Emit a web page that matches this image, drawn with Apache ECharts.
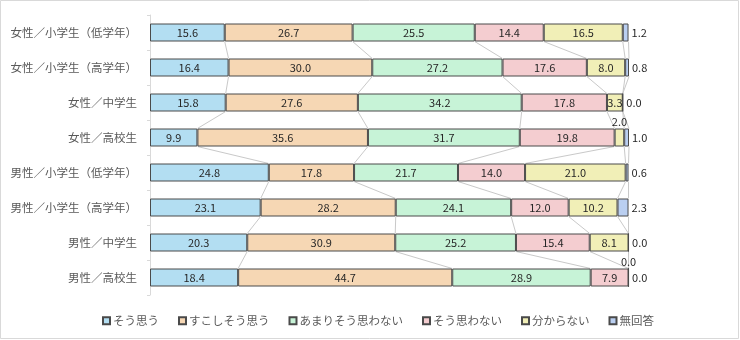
<!DOCTYPE html>
<html lang="ja">
<head>
<meta charset="utf-8">
<title>意識調査 回答割合</title>
<script src="https://cdn.jsdelivr.net/npm/echarts@6/dist/echarts.min.js"></script>
<style>
  html, body { margin: 0; padding: 0; background: #fff; }
  #chart { width: 740px; height: 340px; }
</style>
</head>
<body>
<div id="chart"></div>
<script>
// Respondent groups, top to bottom
const categories = [
  '女性／小学生（低学年）',
  '女性／小学生（高学年）',
  '女性／中学生',
  '女性／高校生',
  '男性／小学生（低学年）',
  '男性／小学生（高学年）',
  '男性／中学生',
  '男性／高校生'
];

// Answer options (legend order)
const answerNames = ['そう思う', 'すこしそう思う', 'あまりそう思わない', 'そう思わない', '分からない', '無回答'];

// Shares in percent, one value per group
const agree         = [15.6, 16.4, 15.8,  9.9, 24.8, 23.1, 20.3, 18.4];
const somewhatAgree = [26.7, 30.0, 27.6, 35.6, 17.8, 28.2, 30.9, 44.7];
const notReally     = [25.5, 27.2, 34.2, 31.7, 21.7, 24.1, 25.2, 28.9];
const disagree      = [14.4, 17.6, 17.8, 19.8, 14.0, 12.0, 15.4,  7.9];
const unsure        = [16.5,  8.0,  3.3,  2.0, 21.0, 10.2,  8.1,  0.0];
const noAnswer      = [ 1.2,  0.8,  0.0,  1.0,  0.6,  2.3,  0.0,  0.0];

const answerValues = [agree, somewhatAgree, notReally, disagree, unsure, noAnswer];

// Groups whose "分からない" label sits above the bar (segment too thin)
const unsureLabelAbove = [3, 7];

const colors = ['#b3def2', '#f6d7b4', '#c7f3d7', '#f4cdd0', '#f1efb7', '#bacff1'];
const BAR_W = 18;
const FONT = "'Noto Sans CJK JP', 'Noto Sans', sans-serif";

const chart = echarts.init(document.getElementById('chart'), null, { renderer: 'canvas' });

const barSeries = answerNames.map((name, s) => {
  const data = answerValues[s].map((v, i) => {
    const item = { value: v };
    if (s === 4 && unsureLabelAbove.includes(i)) {
      item.label = { position: 'top', distance: 1 };
    }
    return item;
  });
  return {
    name,
    type: 'bar',
    stack: 'total',
    barWidth: BAR_W,
    z: 3,
    itemStyle: { color: colors[s], borderColor: '#4a4a4a', borderWidth: 1 },
    label: {
      show: true,
      position: s === 5 ? 'right' : 'inside',
      distance: 3,
      color: '#262626',
      fontFamily: FONT,
      fontSize: 11,
      formatter: p => Number(p.value).toFixed(1)
    },
    emphasis: { disabled: true },
    data
  };
});

// Connector lines linking each segment end between neighbouring bars
function cumulative(i, s) {
  let sum = 0;
  for (let k = 0; k <= s; k++) sum += answerValues[k][i];
  return sum;
}

const seriesLines = {
  type: 'custom',
  name: 'series-lines',
  z: 1,
  silent: true,
  encode: { x: 0, y: 1 },
  data: categories.slice(0, -1).map((_, i) => [0, i]),
  renderItem(params, api) {
    const i = params.dataIndex;
    const children = [];
    for (let s = 0; s < answerNames.length; s++) {
      const a = api.coord([cumulative(i, s), i]);
      const b = api.coord([cumulative(i + 1, s), i + 1]);
      children.push({
        type: 'line',
        shape: { x1: a[0], y1: a[1] + BAR_W / 2, x2: b[0], y2: b[1] - BAR_W / 2 },
        style: { stroke: '#c9c9c9', lineWidth: 1 }
      });
    }
    return { type: 'group', children };
  }
};

chart.setOption({
  animation: false,
  backgroundColor: '#fff',
  textStyle: { fontFamily: FONT },
  graphic: [{
    type: 'rect',
    shape: { x: 0.5, y: 0.5, width: 738, height: 338 },
    style: { fill: 'none', stroke: '#d9d9d9', lineWidth: 1 },
    silent: true,
    z: -10
  }],
  grid: { left: 150, top: 15, width: 479, height: 280, containLabel: false },
  xAxis: {
    type: 'value',
    min: 0,
    max: 100,
    show: false
  },
  yAxis: {
    type: 'category',
    data: categories,
    inverse: true,
    axisLine: { show: true, lineStyle: { color: '#d9d9d9', width: 1 } },
    axisTick: { show: true, length: 3, lineStyle: { color: '#d9d9d9' } },
    axisLabel: { color: '#595959', fontSize: 11.5, fontFamily: FONT, margin: 13 },
    splitLine: { show: false }
  },
  legend: {
    data: answerNames,
    left: 97,
    top: 310,
    itemWidth: 7,
    itemHeight: 7,
    itemGap: 19,
    icon: 'rect',
    textStyle: { color: '#595959', fontSize: 11.5, fontFamily: FONT, padding: [0, 0, 0, -2] },
    selectedMode: false
  },
  series: [seriesLines, ...barSeries]
});
</script>
</body>
</html>
